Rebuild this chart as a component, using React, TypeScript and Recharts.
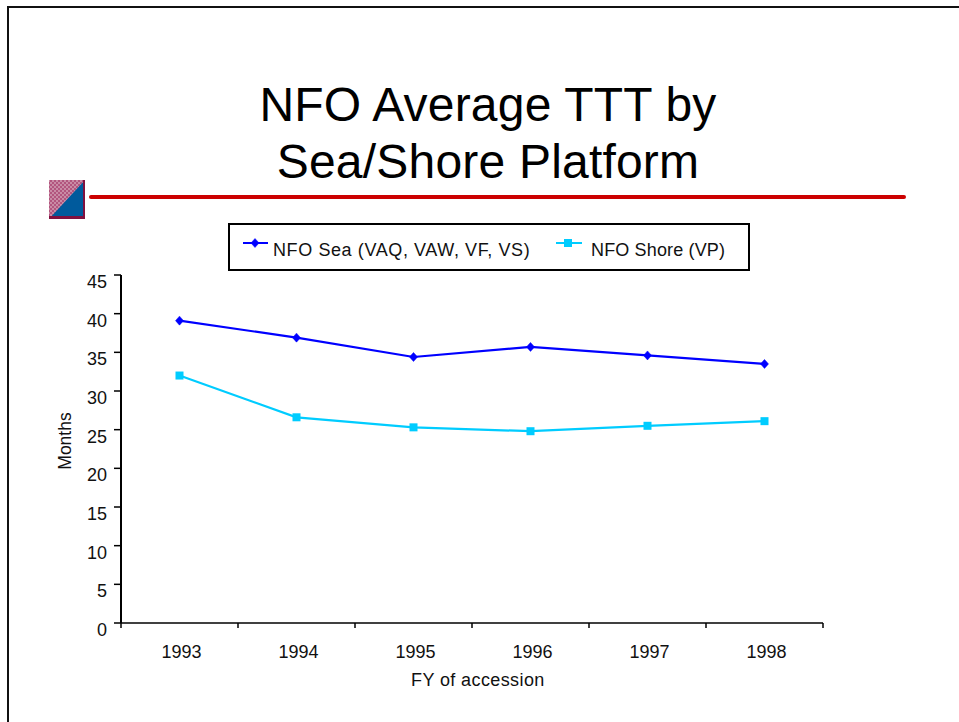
import React from 'react';
import { LineChart, Line, XAxis, YAxis, Legend } from 'recharts';

const years = ['1993', '1994', '1995', '1996', '1997', '1998'];
const seaValues = [39.1, 36.9, 34.4, 35.7, 34.6, 33.5];
const shoreValues = [32.0, 26.6, 25.3, 24.8, 25.5, 26.1];
const yTicks = [0, 5, 10, 15, 20, 25, 30, 35, 40, 45];
const titleLines = ['NFO Average TTT by', 'Sea/Shore Platform'];
const seaName = 'NFO Sea (VAQ, VAW, VF, VS)';
const shoreName = 'NFO Shore (VP)';
const xLabel = 'FY of accession';
const yLabel = 'Months';

const BLUE = '#0000FF';
const CYAN = '#00CCFF';
const FONT = '"Liberation Sans", Arial, sans-serif';
const TEXT = '#111';

const data = years.map((year, i) => ({ year, sea: seaValues[i], shore: shoreValues[i] }));

const Diamond = ({ cx, cy, color }: any) => (
  <polygon points={`${cx},${cy - 4.5} ${cx + 4},${cy} ${cx},${cy + 4.5} ${cx - 4},${cy}`} fill={color} stroke={color} strokeWidth={0.5} />
);
const Square = ({ cx, cy, color }: any) => (
  <rect x={cx - 4} y={cy - 4} width={8} height={8} fill={color} />
);

const renderSeaDot = (p: any) => <Diamond key={`sea-${p.index}`} cx={p.cx} cy={p.cy} color={BLUE} />;
const renderShoreDot = (p: any) => <Square key={`shore-${p.index}`} cx={p.cx} cy={p.cy} color={CYAN} />;

const XTick = ({ x, y, payload, index }: any) => {
  const half = 58.5;
  const axisY = y - 8;
  return (
    <g>
      <line x1={x - half} x2={x - half} y1={axisY} y2={axisY + 5} stroke="#000" strokeWidth={1.5} />
      {index === years.length - 1 && (
        <line x1={x + half} x2={x + half} y1={axisY} y2={axisY + 5} stroke="#000" strokeWidth={1.5} />
      )}
      <text x={x + 2} y={axisY + 35} textAnchor="middle" fontFamily={FONT} fontSize={18} fill={TEXT}>
        {payload.value}
      </text>
    </g>
  );
};

const YTick = ({ x, y, payload }: any) => (
  <text x={x} y={y + 13} textAnchor="end" fontFamily={FONT} fontSize={18} fill={TEXT}>
    {payload.value}
  </text>
);

const LegendBox = () => (
  <div style={{ position: 'relative', width: 522, height: 48, boxSizing: 'border-box', border: '2px solid #000', background: '#fff', fontFamily: FONT, fontSize: 18, color: TEXT }}>
    <svg width={518} height={44} style={{ position: 'absolute', left: 0, top: 0 }}>
      <line x1={13} x2={38} y1={18} y2={18} stroke={BLUE} strokeWidth={2} />
      <Diamond cx={25} cy={18} color={BLUE} />
      <line x1={326} x2={352} y1={18} y2={18} stroke={CYAN} strokeWidth={2} />
      <Square cx={338} cy={18} color={CYAN} />
    </svg>
    <span style={{ position: 'absolute', left: 43, top: 15, whiteSpace: 'nowrap', letterSpacing: 0.6 }}>{seaName}</span>
    <span style={{ position: 'absolute', left: 361, top: 15, whiteSpace: 'nowrap', letterSpacing: 0.15 }}>{shoreName}</span>
  </div>
);

export default function App() {
  return (
    <div style={{ position: 'absolute', left: 0, top: 0, width: 959, height: 722, overflow: 'hidden', background: '#fff' }}>
      <div style={{ position: 'absolute', left: 7, top: 6, width: 980, height: 760, border: '2px solid #111', boxSizing: 'border-box' }} />
      <div style={{ position: 'absolute', left: 0, top: 76, width: 976, textAlign: 'center', fontFamily: FONT, fontSize: 48, lineHeight: '57px', letterSpacing: 0.2, color: '#000' }}>
        {titleLines.map((t) => <div key={t}>{t}</div>)}
      </div>
      <svg width={959} height={722} style={{ position: 'absolute', left: 0, top: 0 }}>
        <defs>
          <pattern id="dither" width={4} height={4} patternUnits="userSpaceOnUse">
            <rect width={4} height={4} fill="#B2557E" />
            <rect width={2} height={2} fill="#C98BA5" />
            <rect x={2} y={2} width={2} height={2} fill="#C98BA5" />
          </pattern>
        </defs>
        <rect x={49} y={180} width={36} height={39} fill="url(#dither)" />
        <polygon points="49,219 85,180 85,219" fill="#005A9C" />
        <rect x={49} y={216} width={36} height={3} fill="#80103F" />
        <rect x={83} y={180} width={2} height={39} fill="#80103F" />
        <line x1={91} x2={904} y1={197} y2={197} stroke="#CC0000" strokeWidth={4} strokeLinecap="round" />
      </svg>
      <div style={{ position: 'absolute', left: 0, top: 0 }}>
        <LineChart width={959} height={722} data={data} margin={{ top: 275, left: 61, right: 136, bottom: 39 }}>
          <XAxis dataKey="year" scale="band" height={60} tick={<XTick />} tickLine={false} tickSize={0} tickMargin={8} axisLine={{ stroke: '#000', strokeWidth: 1.5 }} interval={0} />
          <YAxis width={60} domain={[0, 45]} ticks={yTicks} interval={0} tick={<YTick />} tickSize={7} tickMargin={7} tickLine={{ stroke: '#000', strokeWidth: 1.5 }} axisLine={{ stroke: '#000', strokeWidth: 2 }} />
          <Legend layout="horizontal" verticalAlign="middle" content={<LegendBox />} wrapperStyle={{ position: 'absolute', left: 228, top: 223, width: 522, height: 48 }} />
          <Line name={seaName} dataKey="sea" stroke={BLUE} strokeWidth={2.2} dot={renderSeaDot} isAnimationActive={false} />
          <Line name={shoreName} dataKey="shore" stroke={CYAN} strokeWidth={2.2} dot={renderShoreDot} isAnimationActive={false} />
        </LineChart>
      </div>
      <div style={{ position: 'absolute', left: 411, top: 670, fontFamily: FONT, fontSize: 18, letterSpacing: 0.4, color: TEXT, whiteSpace: 'nowrap' }}>{xLabel}</div>
      <div style={{ position: 'absolute', left: 65, top: 441, transform: 'translate(-50%,-50%) rotate(-90deg)', fontFamily: FONT, fontSize: 17.5, color: TEXT, whiteSpace: 'nowrap' }}>{yLabel}</div>
    </div>
  );
}
